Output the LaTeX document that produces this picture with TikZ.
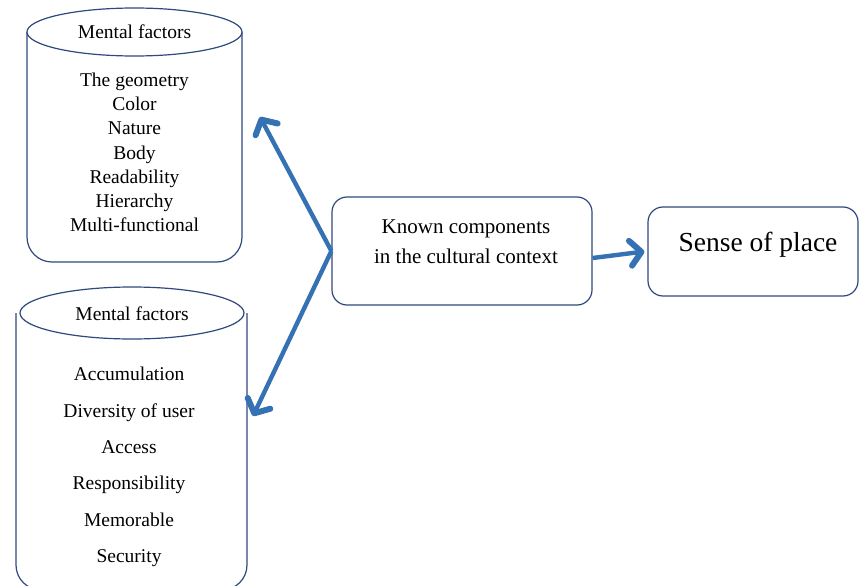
\documentclass[tikz,border=0pt]{standalone}
\usepackage{fontspec}
\setmainfont{Liberation Serif}
\usepackage{tikz}
\usetikzlibrary{arrows.meta, calc}
\usepackage{xcolor}
\definecolor{frameblue}{RGB}{47,72,125}
\definecolor{arrowblue}{RGB}{52,114,180}

\tikzset{
  frame/.style={draw=frameblue, line width=1.2pt},
  roundbox/.style={frame, rounded corners=15pt, inner sep=0pt},
  bluearrow/.style={draw=arrowblue, line width=4.4pt,
    -{Straight Barb[length=11pt, width=25pt, line width=6pt, round]}}
}

\begin{document}
\begin{tikzpicture}[x=1pt, y=-1pt]
  \useasboundingbox (0,0) rectangle (860,586);

  % Upper cylinder
  \draw[frame, rounded corners=25pt] (27,32) -- (27,262) -- (242,262) -- (242,32);
  \draw[frame, fill=white] (134.5,32) ellipse [x radius=107.5, y radius=24];
  \node[font=\fontsize{19.5}{24}\selectfont] (titleA) at (134.5,32) {Mental factors};
  \node[align=center, font=\fontsize{19.5}{24.2}\selectfont] (itemsA) at (134.5,152.5)
    {The geometry\\Color\\Nature\\Body\\Readability\\Hierarchy\\Multi-functional};

  % Lower cylinder
  \draw[frame, rounded corners=25pt] (16,313) -- (16,590) -- (247,590) -- (247,313);
  \draw[frame, fill=white] (132,313) ellipse [x radius=112, y radius=26];
  \node[font=\fontsize{19.5}{24}\selectfont] (titleB) at (132,314) {Mental factors};
  \node[align=center, font=\fontsize{19.5}{36.4}\selectfont] (itemsB) at (129,467)
    {Accumulation\\Diversity of user\\Access\\Responsibility\\Memorable\\Security};

  % Middle and right boxes
  \node[roundbox, minimum width=260pt, minimum height=108pt] (ctx) at (462,251) {};
  \node[align=center, font=\fontsize{21}{30}\selectfont] (ctxtext) at (466,242)
    {Known components\\in the cultural context};
  \node[roundbox, minimum width=210pt, minimum height=89pt] (sense) at (753,251.5) {};
  \node[font=\fontsize{27.5}{30}\selectfont] (sensetext) at (758,245) {Sense of place};

  % Arrows
  \coordinate (tipA) at (260,117);
  \coordinate (tipB) at (253,416);
  \draw[bluearrow] (ctx.west) -- (tipA);
  \draw[bluearrow] (ctx.west) -- (tipB);
  \draw[bluearrow] ([yshift=-7pt]ctx.east) -- ([xshift=-3pt]sense.west);
\end{tikzpicture}
\end{document}
